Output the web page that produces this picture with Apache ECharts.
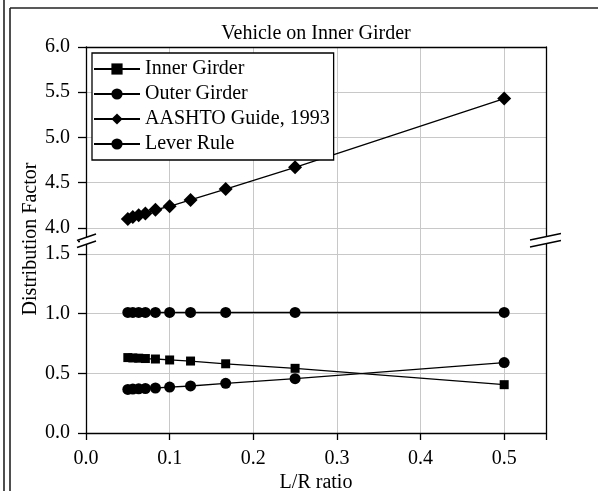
<!DOCTYPE html>
<html>
<head>
<meta charset="utf-8">
<script src="https://cdn.jsdelivr.net/npm/echarts@6/dist/echarts.min.js"></script>
<style>
  html, body { margin: 0; padding: 0; background: #fff; }
  #main { width: 598px; height: 491px; }
</style>
</head>
<body>
<div id="main"></div>
<script>
'use strict';
// L/R ratio = 1/20 ... 1/2
var lrRatio = [0.05, 0.056, 0.063, 0.071, 0.083, 0.1, 0.125, 0.167, 0.25, 0.5];
var innerGirder = [0.632, 0.629, 0.627, 0.624, 0.620, 0.612, 0.603, 0.580, 0.542, 0.405];
var outerGirder = [0.365, 0.368, 0.370, 0.373, 0.377, 0.385, 0.394, 0.416, 0.455, 0.590];
var aashtoGuide = [4.10, 4.12, 4.14, 4.16, 4.20, 4.24, 4.31, 4.43, 4.67, 5.43];
var leverRule = [1.01, 1.01, 1.01, 1.01, 1.01, 1.01, 1.01, 1.01, 1.01, 1.01];
var seriesNames = ['Inner Girder', 'Outer Girder', 'AASHTO Guide, 1993', 'Lever Rule'];
var xTicks = [0, 0.1, 0.2, 0.3, 0.4, 0.5];

var font = 'Liberation Serif';

function pairs(ys) {
    return lrRatio.map(function(x, i) { return [x, ys[i]]; });
}

// only label the 0.5 steps, the break ends stay blank
function halfStep(v) {
    return Math.abs(v * 2 - Math.round(v * 2)) < 1e-6 ? v.toFixed(1) : '';
}

function xAxis(grid, pos, main) {
    return {
        type: 'value', gridIndex: grid, position: pos,
        min: 0, max: 0.55, interval: 0.1,
        axisLine: { show: true, lineStyle: { color: '#000', width: 1.3 } },
        axisTick: { show: main, length: 7, lineStyle: { color: '#000', width: 1.3 } },
        axisLabel: {
            show: main, margin: 16, color: '#000', fontFamily: font, fontSize: 20,
            formatter: function(v) { return xTicks.indexOf(Math.round(v * 10) / 10) >= 0 ? v.toFixed(1) : ''; }
        },
        splitLine: { show: true, lineStyle: { color: '#c8c8c8', width: 1 } },
        name: main ? 'L/R ratio' : '', nameLocation: 'middle', nameGap: 40,
        nameTextStyle: { color: '#000', fontFamily: font, fontSize: 20 }
    };
}

function yAxis(grid, pos, min, max, main, lines) {
    return {
        type: 'value', gridIndex: grid, position: pos,
        min: min, max: max, minInterval: 0.5, maxInterval: 0.5,
        axisLine: { show: true, lineStyle: { color: '#000', width: 1.3 } },
        axisTick: { show: main, length: 8, lineStyle: { color: '#000', width: 1.3 } },
        axisLabel: { show: main, margin: 16, color: '#000', fontFamily: font, fontSize: 20, formatter: halfStep },
        splitLine: {
            show: main && lines, showMinLine: false, showMaxLine: false,
            lineStyle: { color: '#c8c8c8', width: 1 }
        }
    };
}

function lineSeries(name, ys, yIdx, symbol, size) {
    return {
        name: name, type: 'line', xAxisIndex: yIdx, yAxisIndex: yIdx * 2,
        data: pairs(ys), symbol: symbol, symbolSize: size, showSymbol: true,
        lineStyle: { color: '#000', width: 1.3 },
        itemStyle: { color: '#000' },
        animation: false
    };
}

var chart = echarts.init(document.getElementById('main'));

// break marks on the y axis (decoration, not data)
function breakMark(x0, x1, y0, drop, pad) {
    var rise = 6.5;
    return [{
        type: 'polygon', z: 100, silent: true,
        shape: { points: [[x0 + pad, y0], [x1 - pad, y0 - rise], [x1 - pad, y0 - rise + drop], [x0 + pad, y0 + drop]] },
        style: { fill: '#fff' }
    }, {
        type: 'line', z: 101, silent: true,
        shape: { x1: x0, y1: y0, x2: x1, y2: y0 - rise },
        style: { stroke: '#000', lineWidth: 1.5 }
    }, {
        type: 'line', z: 101, silent: true,
        shape: { x1: x0, y1: y0 + drop, x2: x1, y2: y0 - rise + drop },
        style: { stroke: '#000', lineWidth: 1.5 }
    }];
}

var graphics = [
    { type: 'line', z: 100, shape: { x1: 4, y1: 0, x2: 4, y2: 491 }, style: { stroke: '#222', lineWidth: 1.6 } },
    { type: 'line', z: 100, shape: { x1: 10, y1: 8, x2: 10, y2: 491 }, style: { stroke: '#222', lineWidth: 1.6 } },
    { type: 'line', z: 100, shape: { x1: 10, y1: 8, x2: 598, y2: 8 }, style: { stroke: '#222', lineWidth: 1.6 } },
    {
        type: 'text', z: 100, x: 316, y: 34,
        style: { text: 'Vehicle on Inner Girder', fill: '#000', font: '20px "Liberation Serif"', textAlign: 'center', textVerticalAlign: 'middle' }
    },
    {
        type: 'text', z: 100, x: 31, y: 239, rotation: Math.PI / 2,
        style: { text: 'Distribution Factor', fill: '#000', font: '20px "Liberation Serif"', textAlign: 'center', textVerticalAlign: 'middle' }
    }
].concat(breakMark(77, 96, 240.5, 7, 3)).concat(breakMark(530, 561, 240, 7, 6));

var option = {
    backgroundColor: '#fff',
    animation: false,
    grid: [
        { left: 86, right: 52, top: 47, height: 194, outerBoundsMode: 'none' },
        { left: 86, right: 52, top: 241, bottom: 58, outerBoundsMode: 'none' }
    ],
    xAxis: [xAxis(0, 'top', false), xAxis(1, 'bottom', true)],
    yAxis: [
        yAxis(0, 'left', 3.856, 6.0, true, true),
        yAxis(0, 'right', 3.856, 6.0, false, false),
        yAxis(1, 'left', 0, 1.609, true, true),
        yAxis(1, 'right', 0, 1.609, false, false)
    ],
    legend: {
        data: seriesNames, orient: 'vertical', left: 92, top: 53,
        padding: [6, 4, 6, 1], itemGap: 5, itemWidth: 46, itemHeight: 14,
        backgroundColor: '#fff', borderColor: '#000', borderWidth: 1.3, borderRadius: 0,
        textStyle: { color: '#000', fontFamily: font, fontSize: 20, lineHeight: 20 },
        selectedMode: false
    },
    series: [
        lineSeries(seriesNames[0], innerGirder, 1, 'rect', 9),
        lineSeries(seriesNames[1], outerGirder, 1, 'circle', 11),
        lineSeries(seriesNames[2], aashtoGuide, 0, 'diamond', 14),
        lineSeries(seriesNames[3], leverRule, 1, 'circle', 11)
    ],
    graphic: graphics
};

chart.setOption(option);
</script>
</body>
</html>
